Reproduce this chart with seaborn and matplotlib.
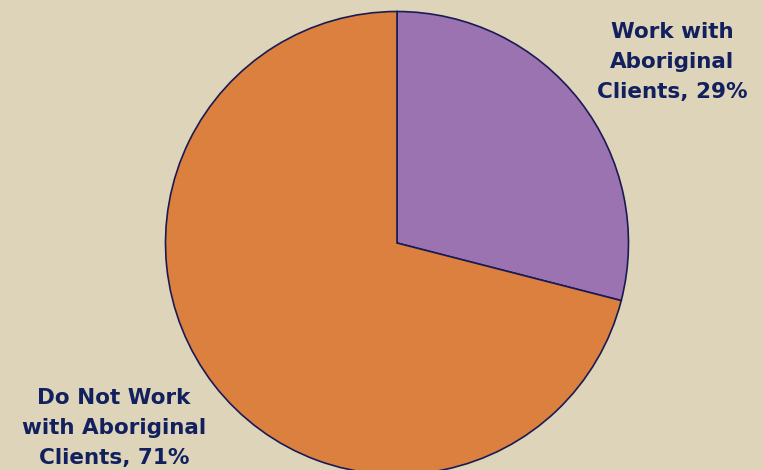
import matplotlib
matplotlib.use("Agg")
import matplotlib.pyplot as plt
import seaborn as sns

categories = ["Work with\nAboriginal\nClients", "Do Not Work\nwith Aboriginal\nClients"]
shares = [29, 71]
slice_colors = ["#9A73B0", "#DC8040"]

sns.set_style("white")
plt.rcParams["font.family"] = ["DejaVu Sans"]

bg = "#DDD4B9"
navy = "#12205E"

W, H = 763, 470
fig = plt.figure(figsize=(W / 100, H / 100), dpi=100, facecolor=bg)
ax = fig.add_axes([0, 0, 1, 1])
ax.set_facecolor(bg)

wedges, _ = ax.pie(
    shares,
    colors=slice_colors,
    startangle=90,
    counterclock=False,
    center=(397, H - 243),
    radius=231.5,
    wedgeprops=dict(edgecolor="#1A1A55", linewidth=1.2),
    frame=True,
)
ax.set_xlim(0, W)
ax.set_ylim(0, H)
ax.set_aspect("equal")
ax.axis("off")

label_pos = [(672, H - 62), (114, H - 428)]
for name, val, (x, y) in zip(categories, shares, label_pos):
    ax.text(x, y, f"{name}, {val}%", ha="center", va="center",
            fontsize=15.5, fontweight="bold", color=navy, linespacing=1.62)

fig.savefig("out.png", dpi=100, facecolor=bg)
